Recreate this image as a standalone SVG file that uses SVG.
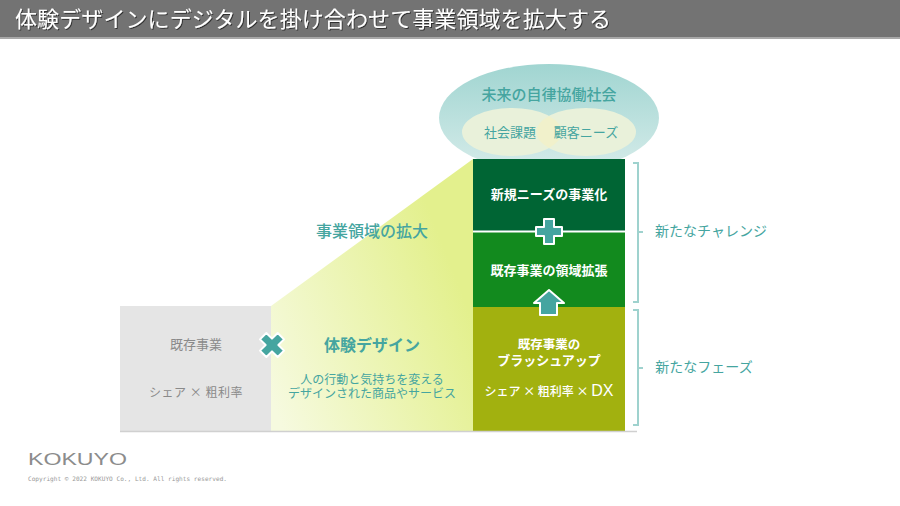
<svg xmlns="http://www.w3.org/2000/svg" width="900" height="506" viewBox="0 0 900 506">
<style>
text{font-family:"Noto Sans CJK JP","Noto Sans",sans-serif;text-anchor:middle}
.t{fill:#45a5a0}
.w{fill:#fff;font-weight:700}
.g{fill:#8a8a8a}
.br{fill:none;stroke:#9fd2ce;stroke-width:2}
.sym{fill:#45a5a0;stroke:#fff;stroke-width:2;stroke-linejoin:round}
.inner{fill:#e9f1da}
</style>
<defs>
<linearGradient id="oval" x1="0" y1="0" x2="0" y2="1"><stop offset="0" stop-color="#a0d5d1"/><stop offset="1" stop-color="#d6ecea"/></linearGradient>
<linearGradient id="fan" gradientUnits="userSpaceOnUse" x1="271" y1="400" x2="473" y2="320"><stop offset="0" stop-color="#f6fadf"/><stop offset="1" stop-color="#e3f08d"/></linearGradient>
<filter id="sh" x="-5%" y="-30%" width="110%" height="160%"><feDropShadow dx="1" dy="1" stdDeviation=".6" flood-color="#222" flood-opacity=".8"/></filter>
</defs>
<g id="header"><rect width="900" height="38" fill="#737373"/><rect y="37" width="900" height="2" fill="#a8a8a8"/>
<text x="15" y="27" font-size="22" style="text-anchor:start" fill="#fff" textLength="596" filter="url(#sh)">体験デザインにデジタルを掛け合わせて事業領域を拡大する</text></g>
<g id="future"><ellipse cx="549" cy="118" rx="110" ry="54" fill="url(#oval)"/>
<ellipse class="inner" cx="512" cy="132" rx="50" ry="24"/><ellipse class="inner" cx="586" cy="132" rx="50" ry="24"/>
<path d="M549 116A50 24 0 0 1 549 148A50 24 0 0 1 549 116Z" fill="#f1f1cb"/>
<text class="t" x="549" y="100" font-size="15" font-weight="500">未来の自律協働社会</text>
<text class="t" x="510" y="137" font-size="13">社会課題</text><text class="t" x="586" y="137" font-size="13">顧客ニーズ</text></g>
<g id="expansion"><path d="M271 306 473 159V431H271Z" fill="url(#fan)"/>
<text class="t" x="372" y="237" font-size="16" font-weight="500">事業領域の拡大</text></g>
<g id="existing"><rect x="120" y="306" width="151" height="125" fill="#e5e5e5"/>
<text class="g" x="196" y="349" font-size="13">既存事業</text><text class="g" x="196" y="397" font-size="12" letter-spacing=".5">シェア × 粗利率</text></g>
<g id="design"><text class="t" x="372" y="351" font-size="16" font-weight="700">体験デザイン</text>
<text class="t" x="372" y="384" font-size="12">人の行動と気持ちを変える</text>
<text class="t" x="372" y="398" font-size="12">デザインされた商品やサービス</text></g>
<g id="new-needs"><rect x="473" y="159" width="152" height="73" fill="#006534"/><text class="w" x="549" y="199" font-size="13">新規ニーズの事業化</text></g>
<g id="expand-biz"><rect x="473" y="232" width="152" height="75" fill="#128a1e"/><text class="w" x="549" y="275" font-size="13">既存事業の領域拡張</text></g>
<g id="brushup"><rect x="473" y="307" width="152" height="124" fill="#a2b10f"/>
<text class="w" x="549" y="349" font-size="12.500">既存事業の</text><text class="w" x="549" y="365" font-size="13">ブラッシュアップ</text>
<text class="w" x="549" y="396" font-size="12" style="font-weight:500">シェア × 粗利率 × <tspan font-size="16" font-family="Liberation Sans" style="font-family:'Liberation Sans'">DX</tspan></text></g>
<g id="new-challenge"><text class="t" x="711" y="236" font-size="14">新たなチャレンジ</text></g>
<g id="new-phase"><text class="t" x="704" y="372" font-size="14">新たなフェーズ</text></g>
<g id="connectors">
<path d="M120 431.500H637" stroke="#d0d0d0" stroke-width="1.500" fill="none"/>
<rect x="473" y="230.500" width="152" height="2" fill="#fff"/>
<path class="br" d="M633 163H638V302H633M638 232H643"/>
<path class="br" d="M633 310H638V425H633M638 368H643"/>
<path class="sym" transform="translate(272 345) rotate(45)" d="M-4.500 -12.500H4.500V-4.500H12.500V4.500H4.500V12.500H-4.500V4.500H-12.500V-4.500H-4.500Z"/>
<path class="sym" d="M544 219H554V227H562V236H554V244H544V236H536V227H544Z"/>
<path class="sym" d="M549 290 564 303H557V315H540V303H534Z"/>
</g>
<g id="footer"><text x="28" y="465" font-size="16" fill="#8c8c8c" style="text-anchor:start;font-family:'Liberation Sans'" textLength="99" lengthAdjust="spacingAndGlyphs">KOKUYO</text>
<text x="28" y="481" font-size="6.100" fill="#999" style="text-anchor:start;font-family:'DejaVu Sans Mono'" textLength="199">Copyright © 2022 KOKUYO Co., Ltd. All rights reserved.</text></g>
</svg>
